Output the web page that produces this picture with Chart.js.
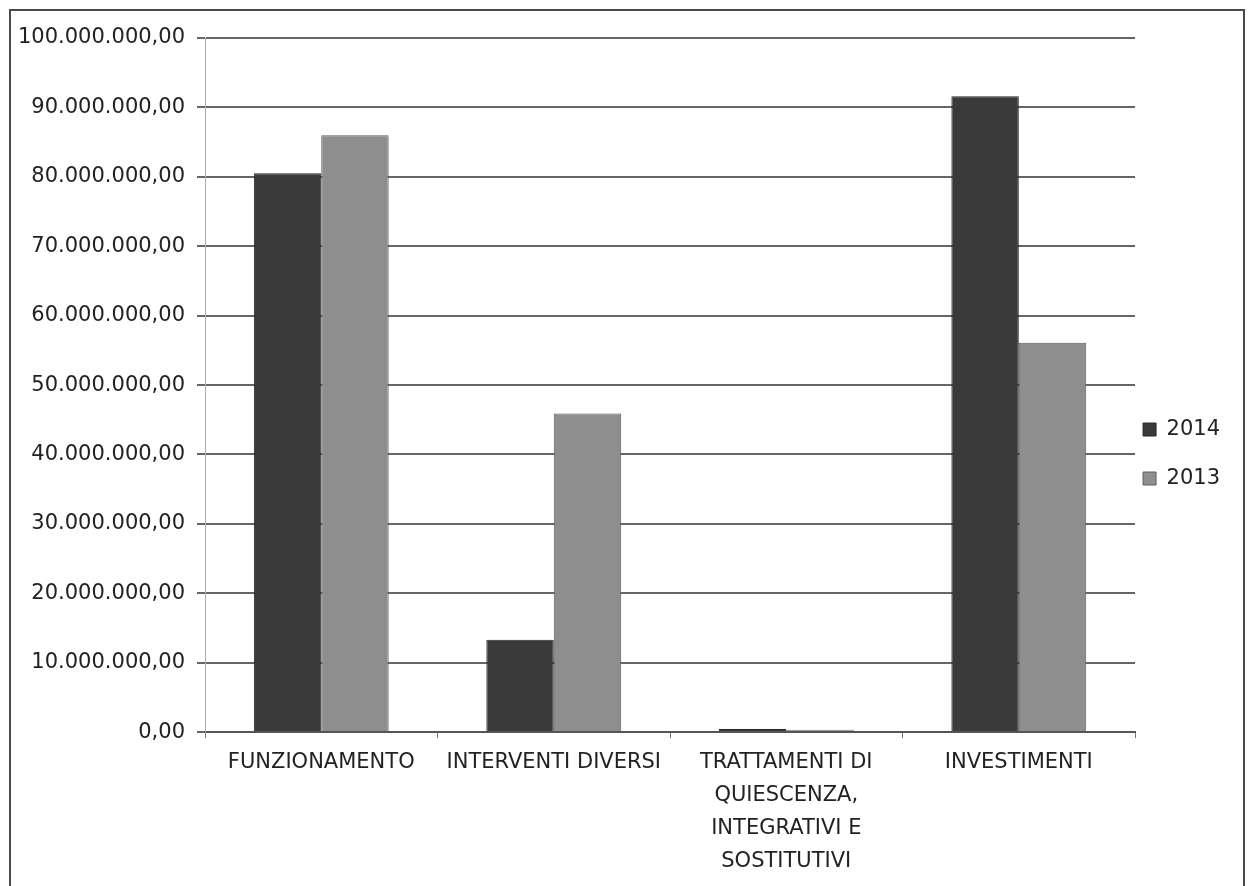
<!DOCTYPE html>
<html lang="it">
  <head>
    <meta charset="UTF-8" />
    <title>Spese 2014 - 2013</title>
    <script src="https://cdn.jsdelivr.net/npm/chart.js"></script>
    <style>
      body { margin: 0; background: #fff; }
      #frame {
        position: absolute; left: 9px; top: 9px; width: 1232px; height: 890px;
        border: 2px solid #4a4a4a; border-bottom: none;
      }
      #myChart { position: absolute; left: 0; top: 0; }
    </style>
  </head>
  <body>
    <div id="frame"></div>
    <canvas id="myChart" width="1250" height="886"></canvas>
    <script>
      // data
      const categories = [
        "FUNZIONAMENTO",
        "INTERVENTI DIVERSI",
        ["TRATTAMENTI DI", "QUIESCENZA,", "INTEGRATIVI E", "SOSTITUTIVI"],
        "INVESTIMENTI",
      ];
      const values2014 = [80500000, 13300000, 450000, 91600000];
      const values2013 = [86000000, 45900000, 350000, 56100000];
      const yMax = 100000000;
      const yStep = 10000000;

      // 100000000 -> "100.000.000,00"
      function formatIt(v) {
        const s = Math.round(v).toString().replace(/\B(?=(\d{3})+(?!\d))/g, ".");
        return s + ",00";
      }

      // legend sits closer to the plot than its item spacing allows, nudge it
      const legendNudge = {
        id: "legendNudge",
        afterLayout(chart) {
          const lg = chart.legend;
          lg.left -= 20;
          lg.right -= 20;
          lg.top -= 8;
          lg.bottom -= 8;
        },
      };

      const ctx = document.getElementById("myChart").getContext("2d");
      const font = { family: "'DejaVu Sans', sans-serif", size: 21 };

      new Chart(ctx, {
        type: "bar",
        data: {
          labels: categories,
          datasets: [
            {
              label: "2014",
              data: values2014,
              backgroundColor: "#3a3a3a",
              borderColor: "#262626",
              borderWidth: 1,
            },
            {
              label: "2013",
              data: values2013,
              backgroundColor: "#8e8e8e",
              borderColor: "#5e5e5e",
              borderWidth: 1,
            },
          ],
        },
        plugins: [legendNudge],
        options: {
          responsive: false,
          animation: false,
          layout: { padding: { left: 10, right: 0, top: 38, bottom: 0 } },
          datasets: { bar: { categoryPercentage: 0.58, barPercentage: 1 } },
          plugins: {
            tooltip: { enabled: false },
            legend: {
              position: "right",
              labels: {
                font: font,
                color: "#222",
                boxWidth: 13,
                boxHeight: 13,
                padding: 28,
              },
            },
          },
          scales: {
            x: {
              grid: { drawOnChartArea: false, drawTicks: true, tickLength: 6, color: "#777" },
              border: { color: "#555", width: 2 },
              ticks: {
                font: { family: font.family, size: 21, lineHeight: 1.57 },
                color: "#222",
                padding: 8,
                maxRotation: 0,
                autoSkip: false,
              },
            },
            y: {
              min: 0,
              max: yMax,
              afterFit: (scale) => { scale.width = 195; },
              grid: { color: "#666", lineWidth: 2, tickLength: 8 },
              border: { color: "#aaa", width: 1 },
              ticks: {
                stepSize: yStep,
                font: font,
                color: "#222",
                padding: 12,
                callback: (v) => formatIt(v),
              },
            },
          },
        },
      });
    </script>
  </body>
</html>
